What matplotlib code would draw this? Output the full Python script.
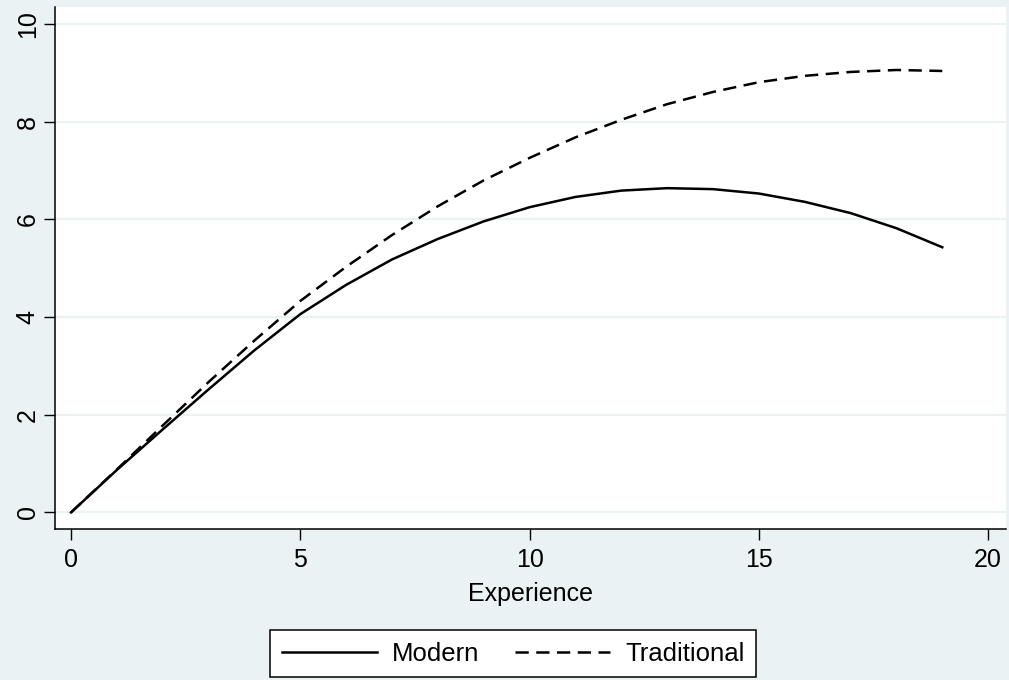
import matplotlib
matplotlib.use('Agg')
import matplotlib.pyplot as plt

experience = list(range(20))
modern = [0.0, 0.87, 1.70, 2.52, 3.32, 4.06, 4.66, 5.18, 5.60, 5.96,
          6.25, 6.46, 6.59, 6.64, 6.62, 6.53, 6.36, 6.13, 5.82, 5.43]
traditional = [0.0, 0.88, 1.78, 2.67, 3.52, 4.33, 5.03, 5.68, 6.27, 6.80,
               7.26, 7.68, 8.04, 8.36, 8.61, 8.81, 8.94, 9.02, 9.06, 9.04]
x_ticks = [0, 5, 10, 15, 20]
y_ticks = [0, 2, 4, 6, 8, 10]

bg = '#EAF2F3'
plt.rcParams['font.family'] = ['Liberation Sans', 'DejaVu Sans']

fig = plt.figure(figsize=(10.09, 6.80), dpi=100)
fig.patch.set_facecolor(bg)
W, H = 1009, 680
ax = fig.add_axes([55 / W, (H - 529) / H, (1006 - 55) / W, (529 - 7) / H])
ax.set_facecolor('white')

for y in y_ticks:
    ax.axhline(y, color=bg, lw=1.6, zorder=0)

ax.plot(experience, modern, color='black', lw=1.8, label='Modern')
ax.plot(experience, traditional, color='black', lw=1.8,
        linestyle=(0, (5.3, 3.0)), label='Traditional')

ax.set_xlim(-0.35, 20.39)
ax.set_ylim(-0.34, 10.35)
ax.set_xticks(x_ticks)
ax.set_yticks(y_ticks)
ax.tick_params(direction='out', length=8, width=1, colors='black',
               labelsize=18)
ax.tick_params(axis='x', pad=6)
ax.tick_params(axis='y', pad=3)
plt.setp(ax.get_yticklabels(), rotation=90, va='center')
ax.spines['top'].set_visible(False)
ax.spines['right'].set_visible(False)
ax.spines['left'].set_linewidth(1.1)
ax.spines['bottom'].set_linewidth(1.1)
ax.set_xlabel('Experience', fontsize=18, labelpad=7)

leg = fig.legend(loc='upper center', bbox_to_anchor=(513 / W, (H - 630) / H),
                 ncol=2, fontsize=18.5, frameon=True, fancybox=False,
                 edgecolor='black', facecolor='white', framealpha=1,
                 handlelength=3.7, handletextpad=0.58, columnspacing=1.4,
                 borderpad=0.45, borderaxespad=0)
leg.get_frame().set_linewidth(1.1)

fig.savefig('out.png', dpi=100, facecolor=bg)
